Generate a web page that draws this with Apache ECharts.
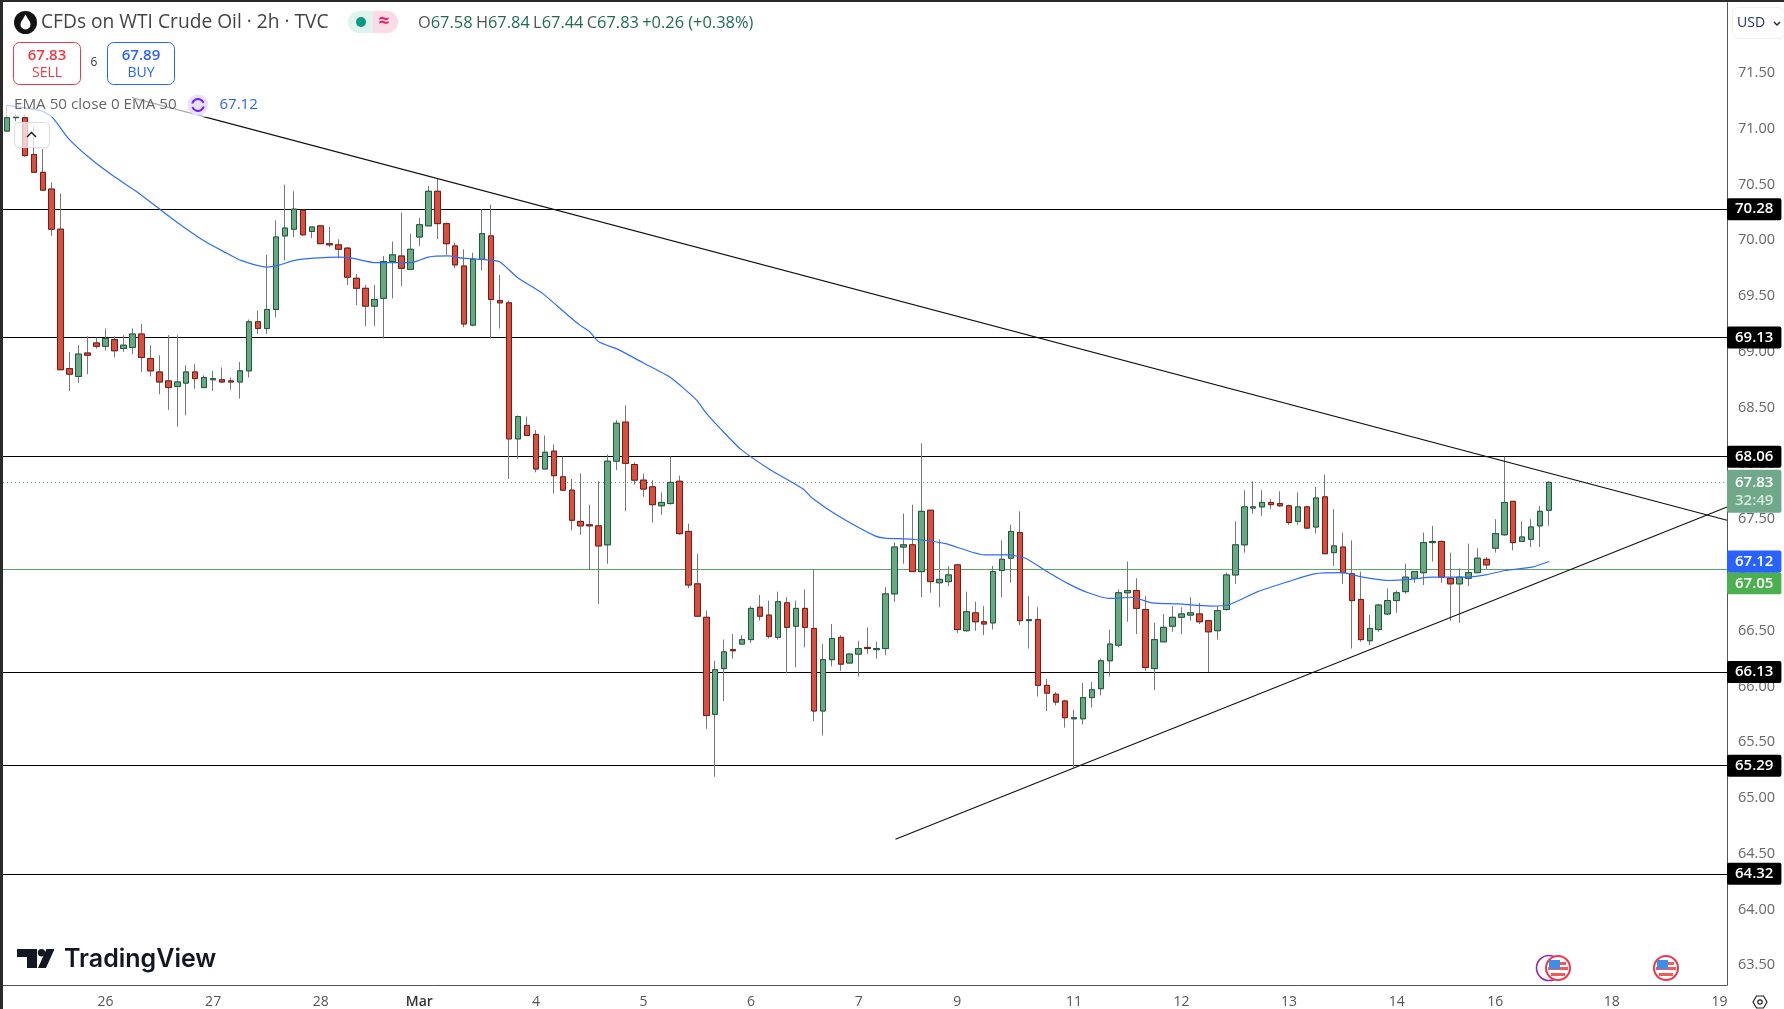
<!DOCTYPE html>
<html>

<head>
  <meta charset="utf-8" />
  <title>CFDs on WTI Crude Oil</title>
  <script src="https://cdn.jsdelivr.net/npm/echarts@6/dist/echarts.min.js"></script>
  <style>
    html, body { margin: 0; padding: 0; background: #fff; overflow: hidden; }
    #main { width: 1784px; height: 1009px; }
  </style>
</head>

<body>
  <div id="main"></div>
  <script type="text/javascript">
    // 2h candles, left to right
    var opens = [70.98,71.10,71.10,70.77,70.61,70.46,70.10,68.85,68.78,68.99,
      69.08,69.05,69.11,69.03,69.04,69.16,68.94,68.82,68.74,68.69,
      68.72,68.82,68.68,68.75,68.75,68.74,68.73,68.83,69.27,69.21,
      69.38,70.04,70.10,70.27,70.08,70.13,69.97,69.96,69.93,69.66,
      69.57,69.41,69.48,69.81,69.86,69.74,70.03,70.13,70.44,70.15,
      69.95,69.77,69.24,69.83,70.04,69.46,69.44,68.22,68.34,68.26,
      67.95,68.11,67.88,67.76,67.48,67.45,67.44,67.27,68.02,68.37,
      67.99,67.85,67.79,67.62,67.64,67.84,67.39,66.92,66.62,65.75,
      66.16,66.33,66.38,66.42,66.71,66.64,66.44,66.75,66.54,66.70,
      66.52,65.78,66.24,66.44,66.21,66.29,66.35,66.33,66.34,66.83,
      67.25,67.27,67.03,67.58,66.93,66.94,67.09,66.50,66.66,66.58,
      66.57,67.04,67.15,67.38,66.59,66.60,66.01,65.93,65.87,65.71,
      65.71,65.90,65.98,66.23,66.37,66.84,66.86,66.69,66.16,66.40,
      66.54,66.62,66.64,66.65,66.59,66.50,66.69,67.00,67.27,67.60,
      67.61,67.65,67.64,67.62,67.48,67.61,67.43,67.70,67.20,67.25,
      67.01,66.78,66.41,66.51,66.65,66.77,66.85,66.97,67.02,67.29,
      67.30,66.97,66.92,66.97,67.02,67.14,67.24,67.36,67.66,67.30,
      67.32,67.44,67.58];
    var closes = [71.10,71.11,70.76,70.61,70.45,70.10,68.84,68.80,68.98,68.97,
      69.05,69.12,69.01,69.06,69.16,68.95,68.83,68.73,68.68,68.73,
      68.82,68.76,68.77,68.76,68.73,68.73,68.83,69.27,69.21,69.38,
      70.03,70.11,70.28,70.05,70.12,69.97,69.96,69.92,69.67,69.57,
      69.41,69.47,69.81,69.87,69.75,69.92,70.14,70.44,70.15,69.97,
      69.78,69.25,69.83,70.06,69.47,69.44,68.22,68.42,68.25,67.95,
      68.10,67.89,67.76,67.49,67.44,67.44,67.26,68.02,68.36,68.00,
      67.85,67.77,67.63,67.65,67.83,67.37,66.91,66.63,65.74,66.15,
      66.31,66.32,66.42,66.70,66.63,66.45,66.76,66.53,66.70,66.53,
      65.78,66.24,66.43,66.20,66.29,66.34,66.34,66.34,66.83,67.25,
      67.27,67.03,67.57,66.94,66.96,67.00,66.51,66.67,66.58,66.56,
      67.03,67.14,67.39,66.59,66.60,66.01,65.94,65.86,65.72,65.72,
      65.90,65.97,66.23,66.38,66.84,66.86,66.70,66.17,66.42,66.53,
      66.62,66.65,66.66,66.58,66.49,66.68,67.00,67.27,67.61,67.61,
      67.65,67.63,67.62,67.47,67.61,67.42,67.69,67.19,67.26,67.02,
      66.77,66.42,66.52,66.73,66.77,66.84,66.98,67.03,67.29,67.30,
      66.98,66.92,66.98,67.02,67.15,67.09,67.37,67.65,67.29,67.34,
      67.43,67.57,67.83];
    var highs = [71.21,71.13,71.13,71.02,70.82,70.52,70.42,69.00,69.06,69.14,
      69.13,69.21,69.14,69.15,69.21,69.25,69.06,68.97,69.15,69.15,
      68.88,68.89,68.79,68.83,68.86,68.77,68.91,69.29,69.37,69.87,
      70.18,70.50,70.44,70.27,70.12,70.13,70.12,70.01,69.94,69.70,
      69.60,69.60,69.86,69.99,70.25,70.06,70.20,70.49,70.55,70.16,
      69.98,69.92,69.89,70.28,70.32,69.69,69.46,68.43,68.42,68.30,
      68.25,68.17,68.06,67.86,67.91,67.63,67.84,68.08,68.39,68.52,
      68.01,67.91,67.85,67.74,68.06,67.89,67.46,67.19,66.68,66.23,
      66.42,66.47,66.46,66.72,66.82,66.77,66.85,66.80,66.77,66.87,
      67.05,66.38,66.56,66.46,66.30,66.41,66.53,66.40,66.89,67.29,
      67.55,67.63,68.18,67.58,67.32,67.08,67.10,66.85,66.76,66.72,
      67.08,67.31,67.45,67.57,66.81,66.71,66.07,65.95,65.88,65.79,
      66.03,66.04,66.25,66.51,66.87,67.12,66.97,66.81,66.57,66.65,
      66.72,66.71,66.80,66.75,66.59,66.72,67.02,67.48,67.76,67.84,
      67.76,67.68,67.75,67.63,67.74,67.62,67.79,67.90,67.59,67.38,
      67.31,67.03,66.64,66.74,66.88,66.86,67.10,67.03,67.38,67.44,
      67.31,67.20,67.06,67.28,67.24,67.16,67.50,68.06,67.66,67.48,
      67.50,67.62,67.84];
    var lows = [70.98,71.07,70.75,70.61,70.45,70.04,68.84,68.65,68.72,68.80,
      69.03,69.01,68.95,69.00,68.98,68.82,68.78,68.62,68.48,68.33,
      68.43,68.67,68.68,68.65,68.72,68.66,68.58,68.77,69.16,69.16,
      69.31,69.82,70.03,70.04,70.02,69.97,69.94,69.84,69.60,69.42,
      69.23,69.23,69.12,69.48,69.59,69.74,69.95,70.13,70.01,69.87,
      69.75,69.22,69.23,69.73,69.12,69.21,67.86,68.04,68.25,67.92,
      67.95,67.73,67.75,67.40,67.36,67.05,66.74,67.10,67.94,67.57,
      67.81,67.70,67.47,67.54,67.63,67.36,66.88,66.63,65.62,65.19,
      65.87,66.25,66.38,66.39,66.59,66.43,66.42,66.12,66.17,66.35,
      65.69,65.56,66.18,66.14,66.21,66.09,66.29,66.25,66.28,66.76,
      67.10,67.03,66.80,66.84,66.71,66.90,66.48,66.49,66.50,66.46,
      66.51,66.80,66.93,66.55,66.34,65.91,65.78,65.83,65.63,65.27,
      65.66,65.81,65.92,66.09,66.35,66.58,66.47,66.14,65.97,66.40,
      66.49,66.47,66.59,66.56,66.13,66.42,66.68,66.92,67.20,67.55,
      67.53,67.59,67.61,67.45,67.45,67.41,67.37,67.19,67.08,66.92,
      66.34,66.40,66.37,66.49,66.64,66.66,66.83,66.93,66.91,67.12,
      66.93,66.59,66.57,66.90,67.02,67.05,67.20,67.35,67.22,67.30,
      67.25,67.25,67.44];

    // EMA 50 (candle index, price)
    var emaIdx = [0,1.8,3.9,5.1,6.9,9.5,12,14.6,17.2,19.7,22.3,24.4,26.1,29,30.4,32.1,34.2,37.1,38.5,41.1,
      43.2,45.1,47,49.2,50.9,53,54.9,56.9,59.8,62.4,63.9,65,66,68.2,71,74,76.9,78,79.7,81.8,
      85,88.8,89.8,92.7,96.8,97.9,101,104.7,109,111.6,113.6,115.8,118.4,120.6,122.9,125.4,127.7,130.6,134.3,136.2,
      139.5,142.9,145.8,149,151.2,154.2,156.4,159,162.7,164.9,167.1,170.1,172];
    var emaVal = [71.21,71.19,71.16,71.10,70.91,70.72,70.57,70.43,70.27,70.12,69.98,69.89,69.82,69.76,69.78,69.82,69.84,69.85,69.84,69.80,
      69.80,69.80,69.85,69.86,69.84,69.83,69.81,69.67,69.52,69.34,69.24,69.18,69.09,69.02,68.90,68.77,68.57,68.45,68.30,68.13,
      67.95,67.77,67.69,67.53,67.35,67.33,67.32,67.28,67.18,67.18,67.15,67.04,66.92,66.84,66.79,66.80,66.75,66.74,66.72,66.73,
      66.85,66.94,67.01,67.02,66.98,66.95,66.96,66.98,66.98,67.00,67.04,67.07,67.12];

    var levels = [70.28, 69.13, 68.06, 66.13, 65.29, 64.32];
    var fiboGreen = 67.05;
    var lastPrice = 67.83;
    var emaLast = 67.12;
    var countdown = '32:49';

    var trendDownIdx = [13.95, 191.84];
    var trendDownVal = [71.28, 67.49];
    var trendUpIdx = [99.1, 191.84];
    var trendUpVal = [64.63, 67.61];

    var yTicks = [63.5,64,64.5,65,65.5,66,66.5,67,67.5,68,68.5,69,69.5,70,70.5,71,71.5];
    var xTickIdx = [11,23,35,46,59,71,83,95,106,119,131,143,155,166,179,191];
    var xTickLabels = ['26','27','28','Mar','4','5','6','7','9','11','12','13','14','16','18','19'];

    var FONT = '"Open Sans", sans-serif';
    var wickRows = opens.map(function (o, i) { return [i, o, closes[i], lows[i], highs[i]]; });
    var bodyRows = opens.map(function (o, i) {
      return [i, o, closes[i], Math.min(o, closes[i]), Math.max(o, closes[i])];
    });
    var emaRows = emaIdx.map(function (x, i) { return [x, emaVal[i]]; });

    function tagLabel(bg) {
      return {
        position: 'end', distance: 0, color: '#fff', fontFamily: FONT, fontSize: 15, fontWeight: 600,
        backgroundColor: bg, padding: [4, 8, 3, 8], borderRadius: 2
      };
    }
    function level(v) {
      return { yAxis: v, lineStyle: { color: '#000', width: 1.2, type: 'solid' }, label: Object.assign(tagLabel('#000'), { formatter: v.toFixed(2) }) };
    }

    var usFlag = function (cx) {
      var cy = 968, r = 12;
      return {
        type: 'group', children: [
          { type: 'circle', z: 30, shape: { cx: cx, cy: cy, r: r }, style: { fill: '#fff', stroke: '#f23645', lineWidth: 2 } },
          { type: 'rect', z: 31, shape: { x: cx - 10, y: cy - 1, width: 20, height: 3 }, style: { fill: '#f05a5a' } },
          { type: 'rect', z: 31, shape: { x: cx - 7, y: cy + 5, width: 14, height: 3 }, style: { fill: '#f05a5a' } },
          { type: 'rect', z: 31, shape: { x: cx + 1, y: cy - 6, width: 7, height: 3 }, style: { fill: '#f05a5a' } },
          { type: 'rect', z: 32, shape: { x: cx - 9, y: cy - 8, width: 11, height: 9 }, style: { fill: '#3d8ee8' } }
        ]
      };
    };

    var chart = echarts.init(document.getElementById('main'));
    chart.setOption({
      animation: false,
      backgroundColor: '#fff',
      grid: { left: 3, right: 57, top: 2.7, bottom: 22.8 },
      xAxis: {
        type: 'value', min: -0.435, max: 191.84, splitLine: { show: false },
        axisLine: { show: true, onZero: false, lineStyle: { color: '#555', width: 1 } },
        axisTick: { show: false },
        axisLabel: {
          customValues: xTickIdx, margin: 10, color: '#555', fontFamily: FONT, fontSize: 14, showMinLabel: true, showMaxLabel: true,
          formatter: function (v) {
            var k = xTickIdx.indexOf(v);
            return k === 3 ? '{m|' + xTickLabels[k] + '}' : xTickLabels[k];
          },
          rich: { m: { color: '#333', fontFamily: FONT, fontSize: 14, fontWeight: 600 } }
        }
      },
      yAxis: {
        type: 'value', position: 'right', min: 63.323, max: 72.131, scale: true, splitLine: { show: false },
        axisLine: { show: true, onZero: false, lineStyle: { color: '#555', width: 1 } },
        axisTick: { show: false },
        axisLabel: {
          customValues: yTicks, margin: 11, color: '#666', fontFamily: FONT, fontSize: 14.5,
          formatter: function (v) { return v.toFixed(2); }
        }
      },
      series: [
        {
          name: 'levels', type: 'line', data: [], z: 2, silent: true,
          markLine: {
            silent: true, symbol: 'none', animation: false, z: 2,
            data: levels.map(level).concat([
              { yAxis: lastPrice, lineStyle: { color: '#5fa883', width: 1, type: [1, 3] },
                label: Object.assign(tagLabel('#6fa98a'), {
                  padding: [4, 8, 3, 8], offset: [0, 9],
                  formatter: '{a|' + lastPrice.toFixed(2) + '}\n{b|' + countdown + '}',
                  rich: {
                    a: { color: '#fff', fontFamily: FONT, fontSize: 15, fontWeight: 600, lineHeight: 18 },
                    b: { color: '#d6e8dd', fontFamily: FONT, fontSize: 15, fontWeight: 600, lineHeight: 18 }
                  }
                }) },
              { yAxis: fiboGreen, lineStyle: { color: '#5aa85f', width: 1.2, type: 'solid' },
                label: Object.assign(tagLabel('#4caf50'), { formatter: fiboGreen.toFixed(2), offset: [0, 14] }) },
              { yAxis: emaLast, lineStyle: { color: 'transparent', width: 0 },
                label: Object.assign(tagLabel('#2962ff'), { formatter: emaLast.toFixed(2) }) }
            ])
          }
        },
        {
          name: 'wicks', type: 'candlestick', data: wickRows, barWidth: 6, z: 3, silent: true,
          itemStyle: { color: 'transparent', color0: 'transparent', borderColor: '#777', borderColor0: '#777', borderWidth: 1 }
        },
        {
          name: 'bodies', type: 'candlestick', data: bodyRows, barWidth: 6, z: 4, silent: true,
          itemStyle: { color: '#6aa884', color0: '#d45040', borderColor: '#1d5a3c', borderColor0: '#7b1a12', borderWidth: 1 }
        },
        {
          name: 'EMA 50', type: 'line', data: emaRows, z: 5, silent: true, showSymbol: false, smooth: 0.2,
          lineStyle: { color: '#2f6bff', width: 1.2 }
        },
        {
          name: 'trend down', type: 'line', data: trendDownIdx.map(function (x, i) { return [x, trendDownVal[i]]; }),
          z: 6, silent: true, showSymbol: false, lineStyle: { color: '#111', width: 1.1 }
        },
        {
          name: 'trend up', type: 'line', data: trendUpIdx.map(function (x, i) { return [x, trendUpVal[i]]; }),
          z: 6, silent: true, showSymbol: false, lineStyle: { color: '#111', width: 1.1 }
        }
      ],
      graphic: [
        // window frame
        { type: 'rect', z: 40, shape: { x: 0, y: 0, width: 1784, height: 2 }, style: { fill: '#2b2b2b' } },
        { type: 'rect', z: 40, shape: { x: 0, y: 0, width: 3, height: 1009 }, style: { fill: '#2b2b2b' } },

        // header
        { type: 'circle', z: 20, shape: { cx: 25.5, cy: 22.5, r: 11.5 }, style: { fill: '#131313' } },
        { type: 'circle', z: 21, shape: { cx: 25.5, cy: 24.5, r: 5 }, style: { fill: '#fff' } },
        { type: 'polygon', z: 21, shape: { points: [[25.5, 14.5], [20.9, 22.5], [30.1, 22.5]] }, style: { fill: '#fff' } },
        { type: 'text', z: 20, x: 41, y: 23, style: { text: 'CFDs on WTI Crude Oil · 2h · TVC', fill: '#444', font: '19.2px ' + FONT, verticalAlign: 'middle' } },
        { type: 'rect', z: 20, shape: { x: 348, y: 11, width: 25, height: 22, r: [11, 0, 0, 11] }, style: { fill: '#dff3ef' } },
        { type: 'rect', z: 20, shape: { x: 373, y: 11, width: 25, height: 22, r: [0, 11, 11, 0] }, style: { fill: '#fbdbe5' } },
        { type: 'circle', z: 21, shape: { cx: 361, cy: 22, r: 5 }, style: { fill: '#089981' } },
        { type: 'text', z: 21, x: 384, y: 22, style: { text: '≈', fill: '#e91e63', font: '700 19px ' + FONT, align: 'center', verticalAlign: 'middle' } },
        {
          type: 'text', z: 20, x: 418, y: 23,
          style: {
            text: '{k|O}{v|67.58} {k|H}{v|67.84} {k|L}{v|67.44} {k|C}{v|67.83} {v|+0.26 (+0.38%)}',
            verticalAlign: 'middle',
            rich: {
              k: { fill: '#555', font: '16.4px ' + FONT },
              v: { fill: '#1f6d4f', font: '16.4px ' + FONT }
            }
          }
        },

        // sell / buy
        { type: 'rect', z: 20, shape: { x: 13.5, y: 42.5, width: 67, height: 42, r: 6 }, style: { fill: '#fff', stroke: '#f23645', lineWidth: 1 } },
        { type: 'text', z: 21, x: 47, y: 56, style: { text: '67.83', fill: '#f23645', font: '600 15px ' + FONT, align: 'center', verticalAlign: 'middle' } },
        { type: 'text', z: 21, x: 47, y: 73, style: { text: 'SELL', fill: '#f23645', font: '14px ' + FONT, align: 'center', verticalAlign: 'middle' } },
        { type: 'text', z: 21, x: 94, y: 63, style: { text: '6', fill: '#333', font: '12px ' + FONT, align: 'center', verticalAlign: 'middle' } },
        { type: 'rect', z: 20, shape: { x: 107.5, y: 42.5, width: 67, height: 42, r: 6 }, style: { fill: '#fff', stroke: '#2962ff', lineWidth: 1 } },
        { type: 'text', z: 21, x: 141, y: 56, style: { text: '67.89', fill: '#2962ff', font: '600 15px ' + FONT, align: 'center', verticalAlign: 'middle' } },
        { type: 'text', z: 21, x: 141, y: 73, style: { text: 'BUY', fill: '#2962ff', font: '14px ' + FONT, align: 'center', verticalAlign: 'middle' } },

        // EMA legend, with the pale wash the lines run under
        { type: 'rect', z: 18, shape: { x: 3, y: 93, width: 212, height: 24 }, style: { fill: 'rgba(255,255,255,0.65)' } },
        { type: 'text', z: 20, x: 14, y: 105, style: { text: 'EMA 50 close 0 EMA 50', fill: '#666', font: '15.2px ' + FONT, verticalAlign: 'middle' } },
        { type: 'circle', z: 20, shape: { cx: 198, cy: 105, r: 10.5 }, style: { fill: '#e9e1fb' } },
        { type: 'arc', z: 21, shape: { cx: 198, cy: 105, r: 6, startAngle: 3.4, endAngle: 5.9 }, style: { fill: 'none', stroke: '#6a1fff', lineWidth: 2 } },
        { type: 'arc', z: 21, shape: { cx: 198, cy: 105, r: 6, startAngle: 0.26, endAngle: 2.8 }, style: { fill: 'none', stroke: '#6a1fff', lineWidth: 2 } },
        { type: 'text', z: 20, x: 219.5, y: 105, style: { text: '67.12', fill: '#2962ff', font: '15px ' + FONT, verticalAlign: 'middle' } },

        // collapse button
        { type: 'rect', z: 20, shape: { x: 14.5, y: 122.5, width: 35, height: 25, r: 4 }, style: { fill: 'rgba(255,255,255,0.72)', stroke: '#dddddd', lineWidth: 1 } },
        { type: 'polyline', z: 21, shape: { points: [[27, 137], [31.5, 132.5], [36, 137]] }, style: { fill: 'none', stroke: '#111', lineWidth: 1.4 } },

        // currency button
        { type: 'rect', z: 20, shape: { x: 1732.5, y: 7.5, width: 52, height: 31, r: 6 }, style: { fill: '#fff', stroke: '#eeeeee', lineWidth: 1 } },
        { type: 'text', z: 21, x: 1737, y: 23, style: { text: 'USD', fill: '#1f2f6f', font: '14px ' + FONT, verticalAlign: 'middle' } },
        { type: 'polyline', z: 21, shape: { points: [[1774, 22], [1777, 25], [1780, 22]] }, style: { fill: 'none', stroke: '#222', lineWidth: 1.4 } },

        // TradingView mark
        { type: 'polygon', z: 20, shape: { points: [[17, 949], [37, 949], [37, 968], [27, 968], [27, 957], [17, 957]] }, style: { fill: '#131722' } },
        { type: 'circle', z: 20, shape: { cx: 41.5, cy: 952.7, r: 3.7 }, style: { fill: '#131722' } },
        { type: 'polygon', z: 20, shape: { points: [[46.5, 949], [54.5, 949], [46, 968], [38, 968]] }, style: { fill: '#131722' } },
        { type: 'text', z: 20, x: 64, y: 959, style: { text: 'TradingView', fill: '#131722', font: '600 25px Inter, ' + FONT, verticalAlign: 'middle' } },

        // economic event markers
        { type: 'circle', z: 29, shape: { cx: 1549, cy: 968, r: 12.5 }, style: { fill: '#fff', stroke: '#9c27b0', lineWidth: 1.6 } },
        usFlag(1558),
        usFlag(1666),

        // settings icon
        { type: 'polygon', z: 20, shape: { points: [[1753, 1002], [1756.5, 996], [1763.5, 996], [1767, 1002], [1763.5, 1008], [1756.5, 1008]] }, style: { fill: 'none', stroke: '#222', lineWidth: 1.2 } },
        { type: 'circle', z: 20, shape: { cx: 1760, cy: 1002, r: 2.2 }, style: { fill: 'none', stroke: '#222', lineWidth: 1.2 } }
      ]
    });
  </script>
</body>

</html>
